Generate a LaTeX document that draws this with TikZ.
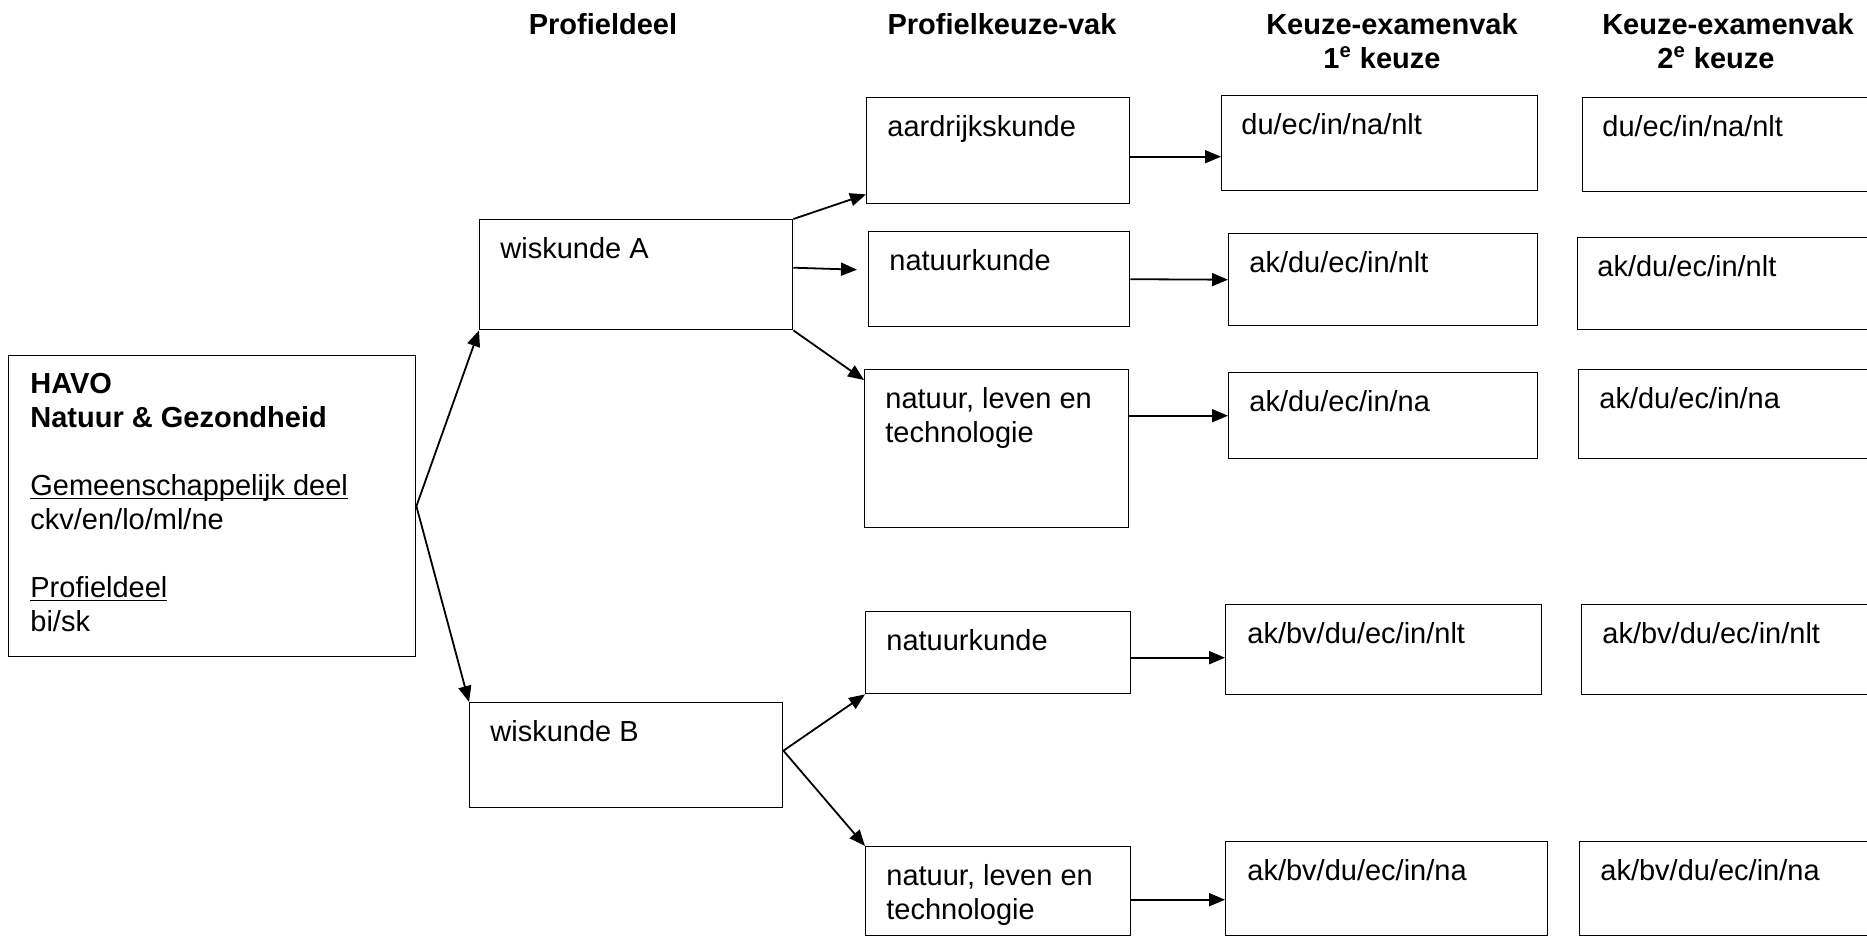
\documentclass[tikz,border=0pt]{standalone}
\usepackage{fontspec}
\setmainfont{Liberation Sans}
\usepackage{tikz}
\usetikzlibrary{calc,arrows.meta,positioning}
\newcommand{\ondlijn}[1]{\setbox0\hbox{#1}\rlap{\rule[-1.6pt]{\wd0}{0.6pt}}\box0}

\begin{document}
\begin{tikzpicture}[x=0.5pt,y=-0.5pt,
	vak/.style={rectangle,draw,line width=0.7pt,anchor=north west,inner sep=0pt},
	maat/.style 2 args={minimum width=#1*0.5pt,minimum height=#2*0.5pt},
	tekst/.style={anchor=north west,inner sep=0pt,align=left,font=\fontsize{14.5}{17}\selectfont},
	kop/.style={anchor=north,inner sep=0pt,align=center,font=\fontsize{14.5}{17}\selectfont\bfseries},
	pijl/.style={-{Triangle[length=8pt,width=6.5pt]},line width=0.9pt}
	]
\useasboundingbox (0,0) rectangle (1867,937);
\clip (0,0) rectangle (1867,937);

\node [kop] (kop1) at (603,13) {Profieldeel};
\node [kop] (kop2) at (1002,13) {Profielkeuze-vak};
\node [kop] (kop3) at (1392,13) {Keuze-examenvak\\ 1\textsuperscript{e} keuze\hspace*{10pt}};
\node [kop] (kop4) at (1728,13) {Keuze-examenvak\\ 2\textsuperscript{e} keuze\hspace*{12pt}};

\node [vak,maat={407}{301}] (havo) at (8,355) {};
\node [tekst,below right=9pt and 11pt of havo.north west] (havo-t) {\textbf{HAVO}\\ \textbf{Natuur \& Gezondheid}\\[17pt] \ondlijn{Gemeenschappelijk deel}\\ ckv/en/lo/ml/ne\\[17pt] \ondlijn{Profieldeel}\\ bi/sk};

\node [vak,maat={313}{110}] (wiskA) at (479,219) {};
\node [tekst,below right=9pt and 10.5pt of wiskA.north west] (wiskA-t) {wiskunde A};
\node [vak,maat={313}{105}] (wiskB) at (469,702) {};
\node [tekst,below right=9pt and 10.5pt of wiskB.north west] (wiskB-t) {wiskunde B};

\node [vak,maat={263}{106}] (aardA) at (866,97) {};
\node [tekst,below right=9pt and 10.5pt of aardA.north west] (aardA-t) {aardrijkskunde};
\node [vak,maat={261}{95}] (natA) at (868,231) {};
\node [tekst,below right=9pt and 10.5pt of natA.north west] (natA-t) {natuurkunde};
\node [vak,maat={264}{158}] (nltA) at (864,369) {};
\node [tekst,below right=9pt and 10.5pt of nltA.north west] (nltA-t) {natuur, leven en\\ technologie};
\node [vak,maat={265}{82}] (natB) at (865,611) {};
\node [tekst,below right=9pt and 10.5pt of natB.north west] (natB-t) {natuurkunde};
\node [vak,maat={265}{89}] (nltB) at (865,846) {};
\node [tekst,below right=9pt and 10.5pt of nltB.north west] (nltB-t) {natuur, leven en\\ technologie};

\node [vak,maat={316}{95}] (k1a) at (1221,95) {};
\node [tekst,below right=9pt and 10pt of k1a.north west] (k1a-t) {du/ec/in/na/nlt};
\node [vak,maat={309}{92}] (k1b) at (1228,233) {};
\node [tekst,below right=9pt and 10.5pt of k1b.north west] (k1b-t) {ak/du/ec/in/nlt};
\node [vak,maat={309}{86}] (k1c) at (1228,372) {};
\node [tekst,below right=9pt and 10.5pt of k1c.north west] (k1c-t) {ak/du/ec/in/na};
\node [vak,maat={316}{90}] (k1d) at (1225,604) {};
\node [tekst,below right=9pt and 11pt of k1d.north west] (k1d-t) {ak/bv/du/ec/in/nlt};
\node [vak,maat={322}{94}] (k1e) at (1225,841) {};
\node [tekst,below right=9pt and 11pt of k1e.north west] (k1e-t) {ak/bv/du/ec/in/na};

\node [vak,maat={300}{94}] (k2a) at (1582,97) {};
\node [tekst,below right=9pt and 10pt of k2a.north west] (k2a-t) {du/ec/in/na/nlt};
\node [vak,maat={305}{92}] (k2b) at (1577,237) {};
\node [tekst,below right=9pt and 10pt of k2b.north west] (k2b-t) {ak/du/ec/in/nlt};
\node [vak,maat={304}{89}] (k2c) at (1578,369) {};
\node [tekst,below right=9pt and 10.5pt of k2c.north west] (k2c-t) {ak/du/ec/in/na};
\node [vak,maat={301}{90}] (k2d) at (1581,604) {};
\node [tekst,below right=9pt and 10.5pt of k2d.north west] (k2d-t) {ak/bv/du/ec/in/nlt};
\node [vak,maat={303}{94}] (k2e) at (1579,841) {};
\node [tekst,below right=9pt and 10.5pt of k2e.north west] (k2e-t) {ak/bv/du/ec/in/na};

\draw [pijl] (havo.east) -- (wiskA.south west);
\draw [pijl] (havo.east) -- (wiskB.north west);

\draw [pijl] (wiskA.north east) -- ([yshift=5pt]aardA.south west);
\draw [pijl] ([yshift=3.5pt]wiskA.east) -- ([xshift=-5.5pt,yshift=4.75pt]natA.west);
\draw [pijl] (wiskA.south east) -- ([yshift=-5.5pt]nltA.north west);
\draw [pijl] ([yshift=2.25pt]wiskB.east) -- (natB.south west);
\draw [pijl] ([yshift=2.25pt]wiskB.east) -- (nltB.north west);

\draw [pijl] ($(aardA.east)+(0,6)$) -- ($(k1a.west)+(0,13.5)$);
\draw [pijl] (natA.east) -- (k1b.west);
\draw [pijl] (nltA.east |- k1c.west) -- (k1c.west);
\draw [pijl] ($(natB.east)+(0,5)$) -- ($(k1d.west)+(0,8)$);
\draw [pijl] ($(nltB.east)+(0,8.5)$) -- ($(k1e.west)+(0,11)$);
\end{tikzpicture}
\end{document}
